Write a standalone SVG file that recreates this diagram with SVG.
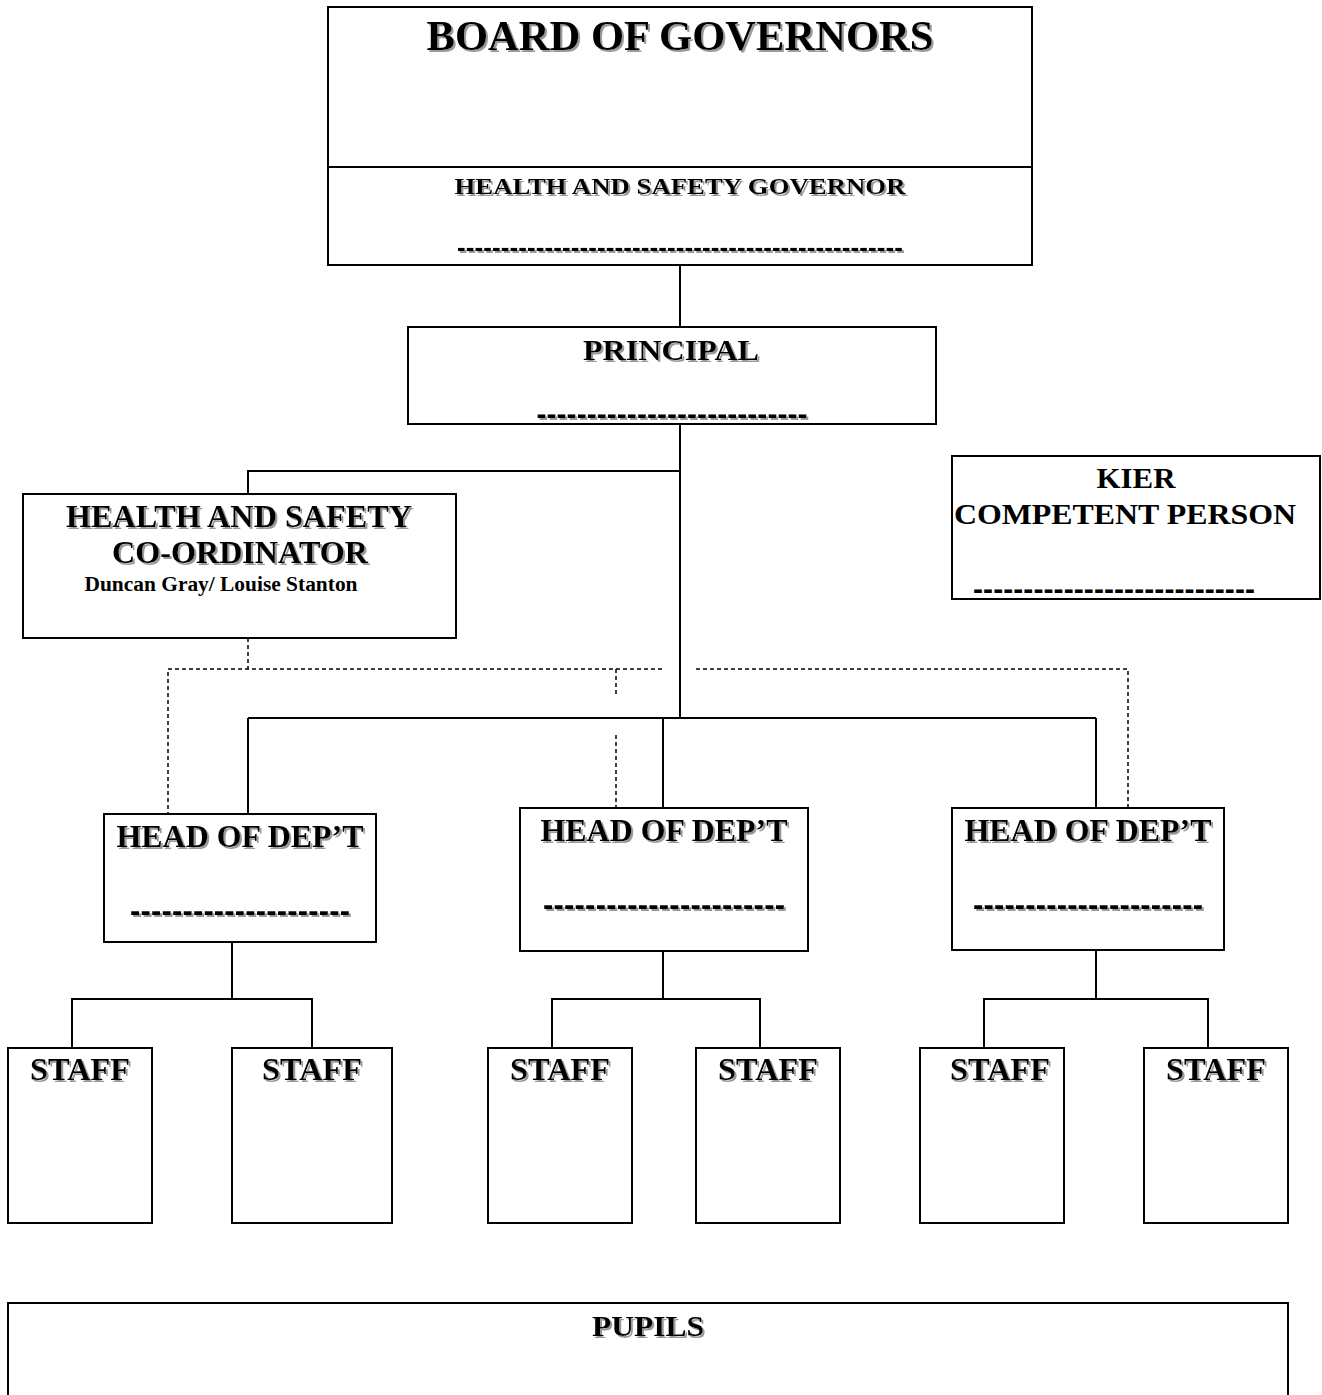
<svg xmlns="http://www.w3.org/2000/svg" width="1322" height="1395" viewBox="0 0 1322 1395">
<defs>
<filter id="sh" x="-5%" y="-20%" width="115%" height="150%">
<feOffset in="SourceAlpha" dx="2" dy="2" result="o"/>
<feFlood flood-color="#9a9a9a"/>
<feComposite in2="o" operator="in" result="s"/>
<feMerge><feMergeNode in="s"/><feMergeNode in="SourceGraphic"/></feMerge>
</filter>
</defs>
<style>
.box{fill:#fff;stroke:#000;stroke-width:2}
.ln{fill:none;stroke:#000;stroke-width:2}
.dl{fill:none;stroke:#000;stroke-width:1.5;stroke-dasharray:4 3}
text{font-family:"Liberation Serif","Times New Roman",serif;font-weight:bold;fill:#000;text-anchor:middle}
.s{filter:url(#sh)}
.d{font-family:"Liberation Sans",Arial,sans-serif}
</style>
<rect width="1322" height="1395" fill="#fff"/>
<g id="connectors">
<line class="ln" x1="680" y1="265" x2="680" y2="327"/>
<line class="ln" x1="680" y1="424" x2="680" y2="718"/>
<polyline class="ln" points="680,471 248,471 248,494"/>
<line class="ln" x1="248" y1="718" x2="1096" y2="718"/>
<line class="ln" x1="248" y1="718" x2="248" y2="814"/>
<line class="ln" x1="663" y1="718" x2="663" y2="808"/>
<line class="ln" x1="1096" y1="718" x2="1096" y2="808"/>
<line class="dl" x1="248" y1="638" x2="248" y2="669"/>
<polyline class="dl" points="662,669 168,669 168,814"/>
<line class="dl" x1="616" y1="669" x2="616" y2="695"/>
<line class="dl" x1="616" y1="735" x2="616" y2="808"/>
<polyline class="dl" points="696,669 1128,669 1128,808"/>
<line class="ln" x1="232" y1="942" x2="232" y2="999"/>
<polyline class="ln" points="72,1048 72,999 312,999 312,1048"/>
<line class="ln" x1="663" y1="951" x2="663" y2="999"/>
<polyline class="ln" points="552,1048 552,999 760,999 760,1048"/>
<line class="ln" x1="1096" y1="950" x2="1096" y2="999"/>
<polyline class="ln" points="984,1048 984,999 1208,999 1208,1048"/>
</g>
<g id="board">
<rect class="box" x="328" y="7" width="704" height="258"/>
<line class="ln" x1="328" y1="167" x2="1032" y2="167"/>
<text class="s" x="680" y="50" font-size="42" textLength="507" lengthAdjust="spacingAndGlyphs">BOARD OF GOVERNORS</text>
<text class="s" x="680" y="194" font-size="24" textLength="451" lengthAdjust="spacingAndGlyphs">HEALTH AND SAFETY GOVERNOR</text>
<text class="s d" x="680" y="256" font-size="26" textLength="446" lengthAdjust="spacing">---------------------------------------------------</text>
</g>
<g id="principal">
<rect class="box" x="408" y="327" width="528" height="97"/>
<text class="s" x="671" y="360" font-size="30" textLength="176" lengthAdjust="spacingAndGlyphs">PRINCIPAL</text>
<text class="s d" x="672" y="424" font-size="30" textLength="271" lengthAdjust="spacing">---------------------------</text>
</g>
<g id="coordinator">
<rect class="box" x="23" y="494" width="433" height="144"/>
<text class="s" x="239" y="527" font-size="31" textLength="346" lengthAdjust="spacingAndGlyphs">HEALTH AND SAFETY</text>
<text class="s" x="240" y="563" font-size="31" textLength="256" lengthAdjust="spacingAndGlyphs">CO-ORDINATOR</text>
<text x="221" y="591" font-size="20" textLength="273" lengthAdjust="spacingAndGlyphs">Duncan Gray/ Louise Stanton</text>
</g>
<g id="kier">
<rect class="box" x="952" y="456" width="368" height="143"/>
<text x="1136" y="488" font-size="30" textLength="79" lengthAdjust="spacingAndGlyphs">KIER</text>
<text x="1125" y="524" font-size="30" textLength="342" lengthAdjust="spacingAndGlyphs">COMPETENT PERSON</text>
<text class="d" x="1114" y="599" font-size="30" textLength="282" lengthAdjust="spacing">----------------------------</text>
</g>
<g id="hod1">
<rect class="box" x="104" y="814" width="272" height="128"/>
<text class="s" x="240" y="847" font-size="31" textLength="247" lengthAdjust="spacingAndGlyphs">HEAD OF DEP’T</text>
<text class="s d" x="240" y="921" font-size="31" textLength="220" lengthAdjust="spacing">---------------------</text>
</g>
<g id="hod2">
<rect class="box" x="520" y="808" width="288" height="143"/>
<text class="s" x="664" y="841" font-size="31" textLength="247" lengthAdjust="spacingAndGlyphs">HEAD OF DEP’T</text>
<text class="s d" x="664" y="915" font-size="31" textLength="242" lengthAdjust="spacing">-----------------------</text>
</g>
<g id="hod3">
<rect class="box" x="952" y="808" width="272" height="142"/>
<text class="s" x="1088" y="841" font-size="31" textLength="247" lengthAdjust="spacingAndGlyphs">HEAD OF DEP’T</text>
<text class="s d" x="1088" y="915" font-size="31" textLength="230" lengthAdjust="spacing">----------------------</text>
</g>
<g id="staff1"><rect class="box" x="8" y="1048" width="144" height="175"/><text class="s" x="80" y="1080" font-size="31" textLength="100" lengthAdjust="spacingAndGlyphs">STAFF</text></g>
<g id="staff2"><rect class="box" x="232" y="1048" width="160" height="175"/><text class="s" x="312" y="1080" font-size="31" textLength="100" lengthAdjust="spacingAndGlyphs">STAFF</text></g>
<g id="staff3"><rect class="box" x="488" y="1048" width="144" height="175"/><text class="s" x="560" y="1080" font-size="31" textLength="100" lengthAdjust="spacingAndGlyphs">STAFF</text></g>
<g id="staff4"><rect class="box" x="696" y="1048" width="144" height="175"/><text class="s" x="768" y="1080" font-size="31" textLength="100" lengthAdjust="spacingAndGlyphs">STAFF</text></g>
<g id="staff5"><rect class="box" x="920" y="1048" width="144" height="175"/><text class="s" x="1000" y="1080" font-size="31" textLength="100" lengthAdjust="spacingAndGlyphs">STAFF</text></g>
<g id="staff6"><rect class="box" x="1144" y="1048" width="144" height="175"/><text class="s" x="1216" y="1080" font-size="31" textLength="100" lengthAdjust="spacingAndGlyphs">STAFF</text></g>
<g id="pupils">
<rect class="box" x="8" y="1303" width="1280" height="100"/>
<text class="s" x="648" y="1336" font-size="30" textLength="112" lengthAdjust="spacingAndGlyphs">PUPILS</text>
</g>
</svg>
